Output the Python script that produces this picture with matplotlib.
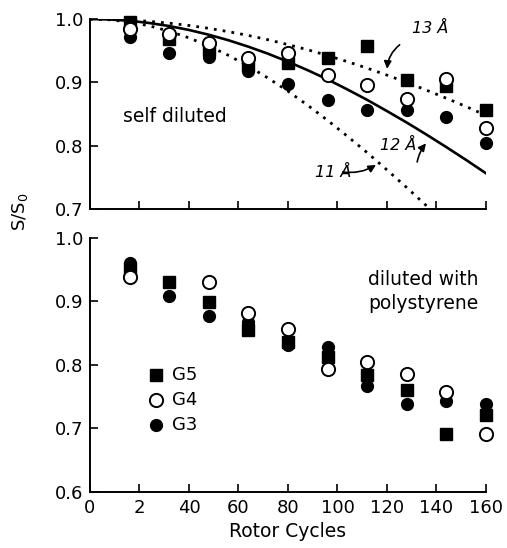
import numpy as np
import matplotlib.pyplot as plt

# rotor cycles where the points were taken
cycles = [16, 32, 48, 64, 80, 96, 112, 128, 144, 160]

# self diluted (top panel)
top_g5 = [0.996, 0.968, 0.951, 0.927, 0.930, 0.938, 0.957, 0.904, 0.894, 0.856]
top_g4 = [0.985, 0.976, 0.962, 0.939, 0.946, 0.911, 0.896, 0.873, 0.905, 0.828]
top_g3 = [0.972, 0.946, 0.940, 0.918, 0.897, 0.872, 0.857, 0.856, 0.846, 0.804]

# diluted with polystyrene (bottom panel)
bot_g5 = [0.951, 0.931, 0.899, 0.855, 0.837, 0.812, 0.785, 0.761, 0.692, 0.721]
bot_g4 = [0.938, np.nan, 0.930, 0.882, 0.857, 0.793, 0.805, 0.786, 0.758, 0.691]
bot_g3 = [0.960, 0.909, 0.877, 0.868, 0.831, 0.828, 0.767, 0.739, 0.744, 0.738]

# theoretical curves
curve_x = [0, 8, 16, 24, 32, 40, 48, 56, 64, 72, 80, 88, 96, 104, 112, 120, 128, 136, 144, 152, 160]
curve_12 = [1.0, 0.9993, 0.9972, 0.9937, 0.9889, 0.9827, 0.9752, 0.9664, 0.9563, 0.9451, 0.9326,
            0.9191, 0.9046, 0.8888, 0.8723, 0.8546, 0.8365, 0.8174, 0.7977, 0.7774, 0.7564]
curve_13 = [1.0, 0.9996, 0.9984, 0.9963, 0.9934, 0.9898, 0.9853, 0.9800, 0.9740, 0.9672, 0.9596,
            0.9514, 0.9424, 0.9327, 0.9224, 0.9114, 0.8998, 0.8876, 0.8749, 0.8617, 0.8479]
curve_11 = [1.0, 0.9988, 0.9952, 0.9892, 0.9808, 0.9702, 0.9574, 0.9425, 0.9255, 0.9066, 0.8860,
            0.8637, 0.8400, 0.8149, 0.7890, 0.7617, 0.7338, 0.7050, 0.6759, 0.6464, 0.6170]

xticks = [0, 20, 40, 60, 80, 100, 120, 140, 160]
xlabels = ["0", "2", "40", "60", "80", "100", "120", "140", "160"]

plt.rcParams['font.family'] = 'DejaVu Sans'
plt.rcParams['font.size'] = 13

fig = plt.figure(figsize=(5.07, 5.48), dpi=100)
ax1 = fig.add_axes([0.1775, 0.6186, 0.781, 0.3467])
ax2 = fig.add_axes([0.1775, 0.1022, 0.781, 0.4635])

dotted = (0, (1, 2.2))


def marks(ax, g5, g4, g3):
    ax.plot(cycles, g3, 'o', color='black', ms=8.5, clip_on=False, zorder=3)
    ax.plot(cycles, g5, 's', color='black', ms=8.5, clip_on=False, zorder=4)
    ax.plot(cycles, g4, 'o', mfc='white', mec='black', mew=1.4, ms=9.5, clip_on=False, zorder=5)


def style(ax, ylim, yticks):
    ax.set_xlim(0, 160)
    ax.set_ylim(*ylim)
    ax.set_yticks(yticks)
    ax.set_yticklabels(["%.1f" % t for t in yticks])
    ax.set_xticks(xticks)
    for s in ['top', 'right']:
        ax.spines[s].set_visible(False)
    for s in ['left', 'bottom']:
        ax.spines[s].set_linewidth(1.4)
    ax.tick_params(direction='in', length=6, width=1.2, labelsize=13, pad=5)


# top panel
ax1.plot(curve_x, curve_12, color='black', lw=1.9)
ax1.plot(curve_x, curve_13, color='black', lw=2, ls=dotted)
ax1.plot(curve_x, curve_11, color='black', lw=2, ls=dotted)
marks(ax1, top_g5, top_g4, top_g3)
style(ax1, (0.7, 1.0), [0.7, 0.8, 0.9, 1.0])
ax1.set_xticklabels([])

ax1.text(13.3, 0.846, "self diluted", fontsize=13.5, va='center')
ax1.text(130, 0.985, "13 Å", fontsize=11.5, style='italic', va='center')
ax1.annotate("", xy=(120, 0.917), xytext=(126, 0.962),
             arrowprops=dict(arrowstyle='-|>', color='black', lw=1.2,
                             connectionstyle='arc3,rad=0.25', mutation_scale=11))
ax1.text(117, 0.800, "12 Å", fontsize=11.5, style='italic', va='center')
ax1.annotate("", xy=(136.5, 0.807), xytext=(132, 0.770),
             arrowprops=dict(arrowstyle='-|>', color='black', lw=1.2,
                             connectionstyle='arc3,rad=-0.15', mutation_scale=11))
ax1.text(91, 0.757, "11 Å", fontsize=11.5, style='italic', va='center')
ax1.annotate("", xy=(116.5, 0.772), xytext=(101, 0.759),
             arrowprops=dict(arrowstyle='-|>', color='black', lw=1.2,
                             connectionstyle='arc3,rad=0.2', mutation_scale=11))

# bottom panel
marks(ax2, bot_g5, bot_g4, bot_g3)
style(ax2, (0.6, 1.0), [0.6, 0.7, 0.8, 0.9, 1.0])
ax2.set_xticklabels(xlabels)
ax2.set_xlabel("Rotor Cycles", fontsize=13.5, labelpad=4)

ax2.text(134.6, 0.916, "diluted with\npolystyrene", fontsize=13.5, ha='center', va='center',
         linespacing=1.3)

# legend drawn by hand
leg_y = [0.785, 0.745, 0.706]
ax2.plot(26.7, leg_y[0], 's', color='black', ms=8.5)
ax2.plot(26.7, leg_y[1], 'o', mfc='white', mec='black', mew=1.4, ms=9.5)
ax2.plot(26.7, leg_y[2], 'o', color='black', ms=8.5)
for yy, name in zip(leg_y, ["G5", "G4", "G3"]):
    ax2.text(33, yy, name, fontsize=13, va='center')

fig.text(20 / 507, 1 - 212 / 548, "S/S$_0$", rotation=90, ha='center', va='center', fontsize=13)

fig.savefig("out.png", dpi=100)
